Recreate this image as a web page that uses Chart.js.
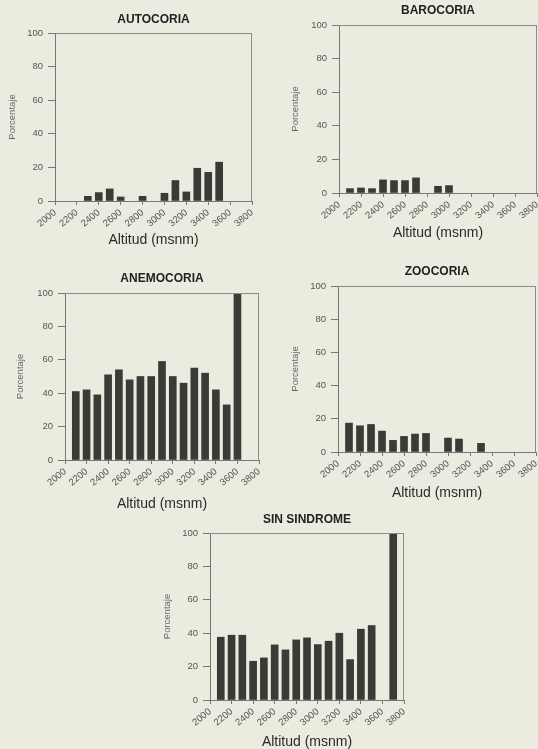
<!DOCTYPE html>
<html>
<head>
<meta charset="utf-8">
<script src="https://cdn.jsdelivr.net/npm/chart.js@4/dist/chart.umd.min.js"></script>
<style>
  html, body { margin: 0; padding: 0; background: #ecebdf; }
  #wrap { position: relative; width: 538px; height: 749px; overflow: hidden; }
  #wrap canvas { position: absolute; left: 0; top: 0; }
</style>
</head>
<body>
<div id="wrap">
  <canvas id="c1" width="538" height="749"></canvas>
  <canvas id="c2" width="538" height="749"></canvas>
  <canvas id="c3" width="538" height="749"></canvas>
  <canvas id="c4" width="538" height="749"></canvas>
  <canvas id="c5" width="538" height="749"></canvas>
</div>
<script>
// ---- DATA ----
const altitudes = [2100, 2200, 2300, 2400, 2500, 2600, 2700, 2800, 2900, 3000, 3100, 3200, 3300, 3400, 3500, 3600, 3700];
const xTicks = [2000, 2200, 2400, 2600, 2800, 3000, 3200, 3400, 3600, 3800];
const yTicks = [0, 20, 40, 60, 80, 100];
const autocoria   = [null, null, 2.8, 5, 7.2, 2.4, null, 2.8, null, 4.6, 12.2, 5.4, 19.5, 17.1, 23.1, null, null];
const barocoria   = [2.6, 3, 2.6, 7.8, 7.4, 7.4, 9, null, 4, 4.4, null, null, null, null, null, null, null];
const anemocoria  = [41, 42, 39, 51, 54, 48, 50, 50, 59, 50, 46, 55, 52, 42, 33, 100, null];
const zoocoria    = [17.4, 15.8, 16.6, 12.6, 7, 9.4, 10.8, 11.2, null, 8.4, 7.8, null, 5.2, null, null, null, null];
const sinSindrome = [37.6, 38.8, 38.8, 23.2, 25.2, 33, 30, 36, 37.2, 33.2, 35.2, 40, 24.2, 42.4, 44.6, null, 100];
const titles = ['AUTOCORIA', 'BAROCORIA', 'ANEMOCORIA', 'ZOOCORIA', 'SIN SINDROME'];
const yLabel = 'Porcentaje';
const xLabel = 'Altitud (msnm)';

// ---- LAYOUT ----
const W = 538, H = 749;
const FONT = "'Liberation Sans', Arial, Helvetica, sans-serif";
const panels = [
  { id: 'c1', title: titles[0], data: autocoria,   L: 55,  R: 252, T: 33,  B: 201, titleY: 20,  xlabY: 240, ylabX: 12 },
  { id: 'c2', title: titles[1], data: barocoria,   L: 339, R: 537, T: 25,  B: 193, titleY: 11,  xlabY: 233, ylabX: 295 },
  { id: 'c3', title: titles[2], data: anemocoria,  L: 65,  R: 259, T: 293, B: 460, titleY: 279, xlabY: 504, ylabX: 20 },
  { id: 'c4', title: titles[3], data: zoocoria,    L: 338, R: 536, T: 286, B: 452, titleY: 272, xlabY: 493, ylabX: 295 },
  { id: 'c5', title: titles[4], data: sinSindrome, L: 210, R: 404, T: 533, B: 700, titleY: 520, xlabY: 742, ylabX: 167 }
];

const framePlugin = {
  id: 'frame',
  afterDraw(chart) {
    const a = chart.chartArea, ctx = chart.ctx;
    ctx.save();
    ctx.strokeStyle = '#8c8c86';
    ctx.lineWidth = 1;
    ctx.beginPath();
    ctx.moveTo(a.left, a.top + 0.5);
    ctx.lineTo(a.right, a.top + 0.5);
    ctx.moveTo(a.right - 0.5, a.top);
    ctx.lineTo(a.right - 0.5, a.bottom);
    ctx.stroke();
    ctx.restore();
  }
};

const TITLE_LH = 14.4, YLAB_HALF = 5.7, XLAB_HALF = 7;

panels.forEach(p => {
  const padLeft = p.ylabX - YLAB_HALF;
  const padTop = p.titleY - TITLE_LH / 2;
  const titlePadBottom = p.T - p.titleY - TITLE_LH / 2;
  const xAxisH = p.xlabY + XLAB_HALF - p.B;
  const padBottom = H - (p.xlabY + XLAB_HALF);
  new Chart(document.getElementById(p.id), {
    type: 'bar',
    data: {
      datasets: [{
        data: altitudes.map((a, i) => ({ x: a, y: p.data[i] })),
        backgroundColor: '#3a3a37',
        borderWidth: 0,
        barThickness: 7
      }]
    },
    options: {
      responsive: false,
      animation: false,
      events: [],
      layout: { padding: { left: padLeft, right: W - p.R, top: padTop, bottom: padBottom } },
      plugins: {
        legend: { display: false },
        tooltip: { enabled: false },
        title: {
          display: true, text: p.title, fullSize: false,
          color: '#222', font: { family: FONT, size: 12, weight: 'bold', lineHeight: 1.2 },
          padding: { top: 0, bottom: titlePadBottom }
        }
      },
      scales: {
        x: {
          type: 'linear', min: 2000, max: 3800, offset: false,
          afterBuildTicks: s => { s.ticks = xTicks.map(v => ({ value: v })); },
          afterFit: s => { s.height = xAxisH; s.paddingLeft = 0; s.paddingRight = 0; },
          ticks: {
            autoSkip: false, maxRotation: 40, minRotation: 40, padding: 2,
            color: '#555', font: { family: FONT, size: 9.5 },
            callback: v => String(v)
          },
          grid: { drawOnChartArea: false, offset: false, tickLength: 4, color: '#777' },
          border: { color: '#777', width: 1 },
          title: { display: true, text: xLabel, color: '#2a2a2a', font: { family: FONT, size: 14, lineHeight: 1 }, padding: 0 }
        },
        y: {
          min: 0, max: 100,
          afterBuildTicks: s => { s.ticks = yTicks.map(v => ({ value: v })); },
          afterFit: s => { s.width = p.L - padLeft; s.paddingTop = 0; s.paddingBottom = 0; },
          ticks: { color: '#555', font: { family: FONT, size: 9.5 }, padding: 5 },
          grid: { drawOnChartArea: false, tickLength: 7, color: '#777' },
          border: { color: '#777', width: 1 },
          title: { display: true, text: yLabel, color: '#666', font: { family: FONT, size: 9.5, lineHeight: 1.2 }, padding: 0 }
        }
      }
    },
    plugins: [framePlugin]
  });
});
</script>
</body>
</html>
